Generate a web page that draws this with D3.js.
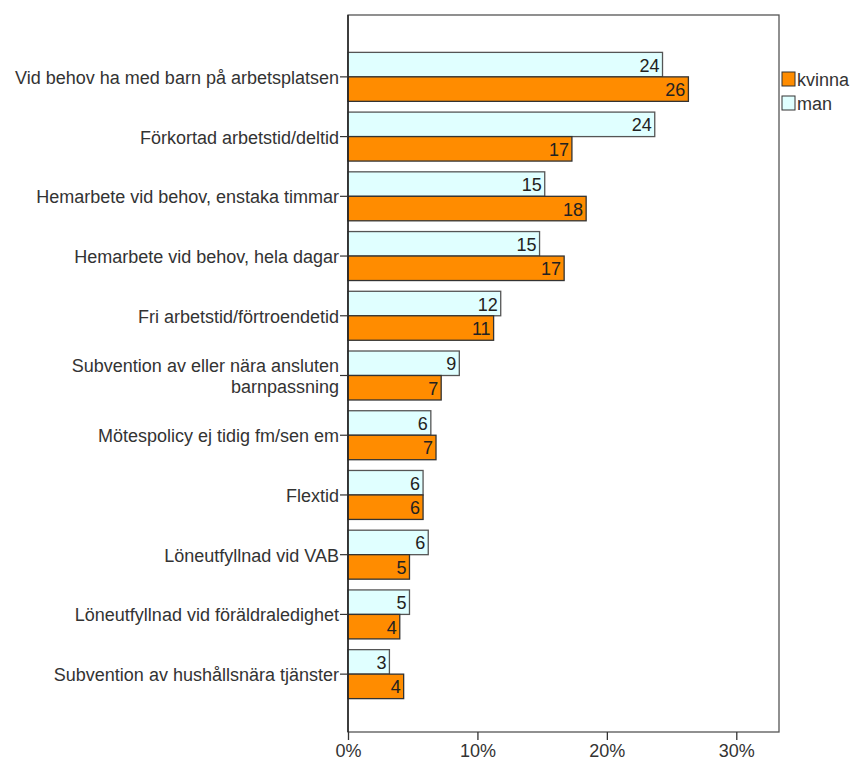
<!DOCTYPE html>
<html><head><meta charset="utf-8">
<script src="https://cdn.jsdelivr.net/npm/d3@7"></script>
<style>body{margin:0;background:#fff}svg{display:block}text{font-family:Arial,"Liberation Sans",sans-serif}</style>
</head><body>
<svg id="c" width="855" height="763"></svg>
<script>
const categories = [
  ["Vid behov ha med barn på arbetsplatsen"],
  ["Förkortad arbetstid/deltid"],
  ["Hemarbete vid behov, enstaka timmar"],
  ["Hemarbete vid behov, hela dagar"],
  ["Fri arbetstid/förtroendetid"],
  ["Subvention av eller nära ansluten", "barnpassning"],
  ["Mötespolicy ej tidig fm/sen em"],
  ["Flextid"],
  ["Löneutfyllnad vid VAB"],
  ["Löneutfyllnad vid föräldraledighet"],
  ["Subvention av hushållsnära tjänster"]
];
const seriesNames = ["man", "kvinna"];
const manValues =    [24.3, 23.7, 15.2, 14.8, 11.8, 8.6, 6.4, 5.8, 6.2, 4.75, 3.2];
const kvinnaValues = [26.3, 17.3, 18.4, 16.7, 11.25, 7.2, 6.8, 5.8, 4.75, 4.0, 4.3];
const xTicks = [0, 10, 20, 30];
const legendOrder = ["kvinna", "man"];

const colors = {man: "#E0FFFF", kvinna: "#FF8C00"};
const svg = d3.select("#c");
const pLeft = 348, pRight = 779, pTop = 15, pBottom = 732;
const FS = 18;

const x = d3.scaleLinear().domain([0, 33.3]).range([pLeft, pRight]);
const keys = categories.map((c, i) => i);
const y = d3.scaleBand().domain(keys).range([47, 704]).paddingInner(0.18).paddingOuter(0.09);
const y1 = d3.scaleBand().domain(seriesNames).range([0, y.bandwidth()]);

const data = { man: manValues, kvinna: kvinnaValues };

// frame
svg.append("rect").attr("x", pLeft).attr("y", pTop).attr("width", pRight - pLeft).attr("height", pBottom - pTop)
  .attr("fill", "none").attr("stroke", "#555").attr("stroke-width", 1.3);

// bars
keys.forEach(i => {
  seriesNames.forEach(s => {
    const v = data[s][i];
    const yy = y(i) + y1(s);
    svg.append("rect").attr("x", x(0)).attr("y", yy).attr("width", x(v) - x(0)).attr("height", y1.bandwidth())
      .attr("fill", colors[s]).attr("stroke", s === "man" ? "#555" : "#333").attr("stroke-width", 1.3);
    svg.append("text").attr("x", x(v) - 3).attr("y", yy + y1.bandwidth() / 2 + 7)
      .attr("text-anchor", "end").attr("font-size", FS).attr("fill", "#222").text(Math.round(v));
  });
});

// left axis line
svg.append("line").attr("x1", pLeft).attr("x2", pLeft).attr("y1", pTop).attr("y2", pBottom)
  .attr("stroke", "#222").attr("stroke-width", 1.5);

// y axis ticks
const ya = d3.axisLeft(y).tickSize(8).tickSizeOuter(0).tickFormat("");
const yg = svg.append("g").attr("transform", `translate(${pLeft},0)`).call(ya);
yg.select(".domain").remove();
yg.selectAll(".tick line").attr("stroke", "#333").attr("stroke-width", 1.2);
keys.forEach(i => {
  const lines = categories[i];
  const cy = y(i) + y.bandwidth() / 2;
  const t = svg.append("text").attr("text-anchor", "end").attr("font-size", FS).attr("fill", "#333");
  const n = lines.length;
  lines.forEach((l, j) => {
    t.append("tspan").attr("x", 339).attr("y", cy + 7 + (j - (n - 1) / 2) * 21).text(l);
  });
});

// x axis
const xa = d3.axisBottom(x).tickValues(xTicks).tickSize(8).tickSizeOuter(0).tickFormat(d => d + "%");
const xg = svg.append("g").attr("transform", `translate(0,${pBottom})`).call(xa);
xg.select(".domain").remove();
xg.selectAll(".tick line").attr("stroke", "#333").attr("stroke-width", 1.3);
xg.selectAll(".tick text").attr("font-size", FS).attr("fill", "#333").attr("y", 9).attr("dy", "0.9em")
  .style("font-family", "Arial, 'Liberation Sans', sans-serif");

// legend
const ly = d3.scaleBand().domain(legendOrder).range([70, 118]);
legendOrder.forEach(s => {
  svg.append("rect").attr("x", 782).attr("y", ly(s) + 2).attr("width", 13).attr("height", 14)
    .attr("fill", colors[s]).attr("stroke", "#333").attr("stroke-width", 1);
  svg.append("text").attr("x", 797).attr("y", ly(s) + 16).attr("font-size", FS).attr("fill", "#333").text(s);
});
</script>
</body></html>
